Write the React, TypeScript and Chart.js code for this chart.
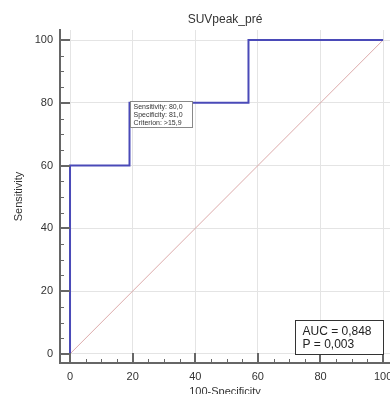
import React, { useEffect, useRef } from "react";
import { Chart, registerables } from "chart.js";

Chart.register(...registerables);

const chartTitle = "SUVpeak_pré";
const xAxisTitle = "100-Specificity";
const yAxisTitle = "Sensitivity";
const majorTicks = [0, 20, 40, 60, 80, 100];
const minorStep = 5;
const rocX = [0, 0, 19, 19, 57, 57, 100];
const rocY = [0, 60, 60, 80, 80, 100, 100];
const diagX = [0, 100];
const diagY = [0, 100];
const criterionPoint = { x: 19, y: 80 };
const criterionLines = ["Sensitivity: 80,0", "Specificity: 81,0", "Criterion: >15,9"];
const statsLines = ["AUC = 0,848", "P = 0,003"];

const FONT = "'Liberation Sans', Arial, sans-serif";

const overlayPlugin = {
  id: "overlay",
  afterDraw(chart: any) {
    const ctx = chart.ctx;
    const xs = chart.scales.x;
    const ys = chart.scales.y;
    const ca = chart.chartArea;
    ctx.save();
    ctx.fillStyle = "#333";
    ctx.font = `12px ${FONT}`;
    ctx.textAlign = "center";
    ctx.textBaseline = "middle";
    ctx.fillText(chartTitle, (ca.left + ca.right) / 2, 20);

    ctx.strokeStyle = "#666";
    for (let v = 0; v <= 100; v += minorStep) {
      const major = majorTicks.includes(v);
      const len = major ? 10 : 4;
      ctx.lineWidth = major ? 2 : 1;
      const px = Math.round(xs.getPixelForValue(v)) + (major ? 0 : 0.5);
      ctx.beginPath();
      ctx.moveTo(px, ca.bottom);
      ctx.lineTo(px, ca.bottom - len);
      ctx.stroke();
      const py = Math.round(ys.getPixelForValue(v)) + (major ? 0 : 0.5);
      ctx.beginPath();
      ctx.moveTo(ca.left, py);
      ctx.lineTo(ca.left + len, py);
      ctx.stroke();
    }

    const bx = Math.round(xs.getPixelForValue(criterionPoint.x)) + 0.5;
    const by = Math.round(ys.getPixelForValue(criterionPoint.y)) - 2 + 0.5;
    ctx.font = `7px ${FONT}`;
    ctx.textAlign = "left";
    ctx.textBaseline = "middle";
    const cw = 62;
    const ch = 26;
    ctx.fillStyle = "#fff";
    ctx.fillRect(bx, by, cw, ch);
    ctx.strokeStyle = "#888";
    ctx.lineWidth = 1;
    ctx.strokeRect(bx, by, cw, ch);
    ctx.fillStyle = "#333";
    criterionLines.forEach((t, i) => ctx.fillText(t, bx + 3, by + 5.5 + i * 7.8));

    const right = Math.round(xs.getPixelForValue(100)) + 0.5;
    const bottom = Math.round(ys.getPixelForValue(0)) + 0.5;
    const sw = 88;
    const sh = 34;
    ctx.fillStyle = "#fff";
    ctx.fillRect(right - sw, bottom - sh, sw, sh);
    ctx.strokeStyle = "#333";
    ctx.strokeRect(right - sw, bottom - sh, sw, sh);
    ctx.fillStyle = "#222";
    ctx.font = `12px ${FONT}`;
    statsLines.forEach((t, i) => ctx.fillText(t, right - sw + 7, bottom - sh + 11 + i * 13));
    ctx.restore();
  },
};

export default function App() {
  const ref = useRef<HTMLCanvasElement>(null);
  useEffect(() => {
    document.body.style.margin = "0";
    const chart = new Chart(ref.current!, {
      type: "scatter",
      data: {
        datasets: [
          {
            data: rocX.map((x, i) => ({ x, y: rocY[i] })),
            showLine: true,
            borderColor: "#4a4ab8",
            borderWidth: 2,
            pointRadius: 0,
            tension: 0,
            order: 1,
          },
          {
            data: diagX.map((x, i) => ({ x, y: diagY[i] })),
            showLine: true,
            borderColor: "#dcaaaa",
            borderWidth: 1,
            pointRadius: 0,
            order: 2,
          },
        ],
      },
      plugins: [overlayPlugin],
      options: {
        animation: false,
        responsive: false,
        layout: { padding: { top: 30, right: 0, left: 0, bottom: 0 } },
        plugins: { legend: { display: false }, tooltip: { enabled: false }, title: { display: false } },
        scales: {
          x: {
            type: "linear",
            min: -3.2,
            max: 102.2,
            afterBuildTicks: (s: any) => {
              s.ticks = majorTicks.map((v) => ({ value: v }));
            },
            afterFit: (s: any) => {
              s.height = 31;
              s.paddingLeft = 0;
              s.paddingRight = 0;
            },
            grid: { color: "#e4e4e4", drawTicks: false, lineWidth: 1 },
            border: { display: true, color: "#666", width: 2 },
            ticks: { padding: 7, color: "#333", font: { family: FONT, size: 11 }, maxRotation: 0 },
            title: { display: true, text: xAxisTitle, color: "#333", font: { family: FONT, size: 11 }, padding: { top: 0, bottom: -5 } },
          },
          y: {
            type: "linear",
            min: -2.9,
            max: 103.2,
            afterBuildTicks: (s: any) => {
              s.ticks = majorTicks.map((v) => ({ value: v }));
            },
            afterFit: (s: any) => {
              s.width = 60;
              s.paddingTop = 0;
              s.paddingBottom = 0;
            },
            grid: { color: "#e4e4e4", drawTicks: false, lineWidth: 1 },
            border: { display: true, color: "#666", width: 2 },
            ticks: { padding: 7, color: "#333", font: { family: FONT, size: 11 } },
            title: { display: true, text: yAxisTitle, color: "#333", font: { family: FONT, size: 11 }, padding: { top: 12, bottom: 0 } },
          },
        },
      },
    } as any);
    return () => chart.destroy();
  }, []);
  return <canvas ref={ref} width={390} height={394} style={{ display: "block" }} />;
}
